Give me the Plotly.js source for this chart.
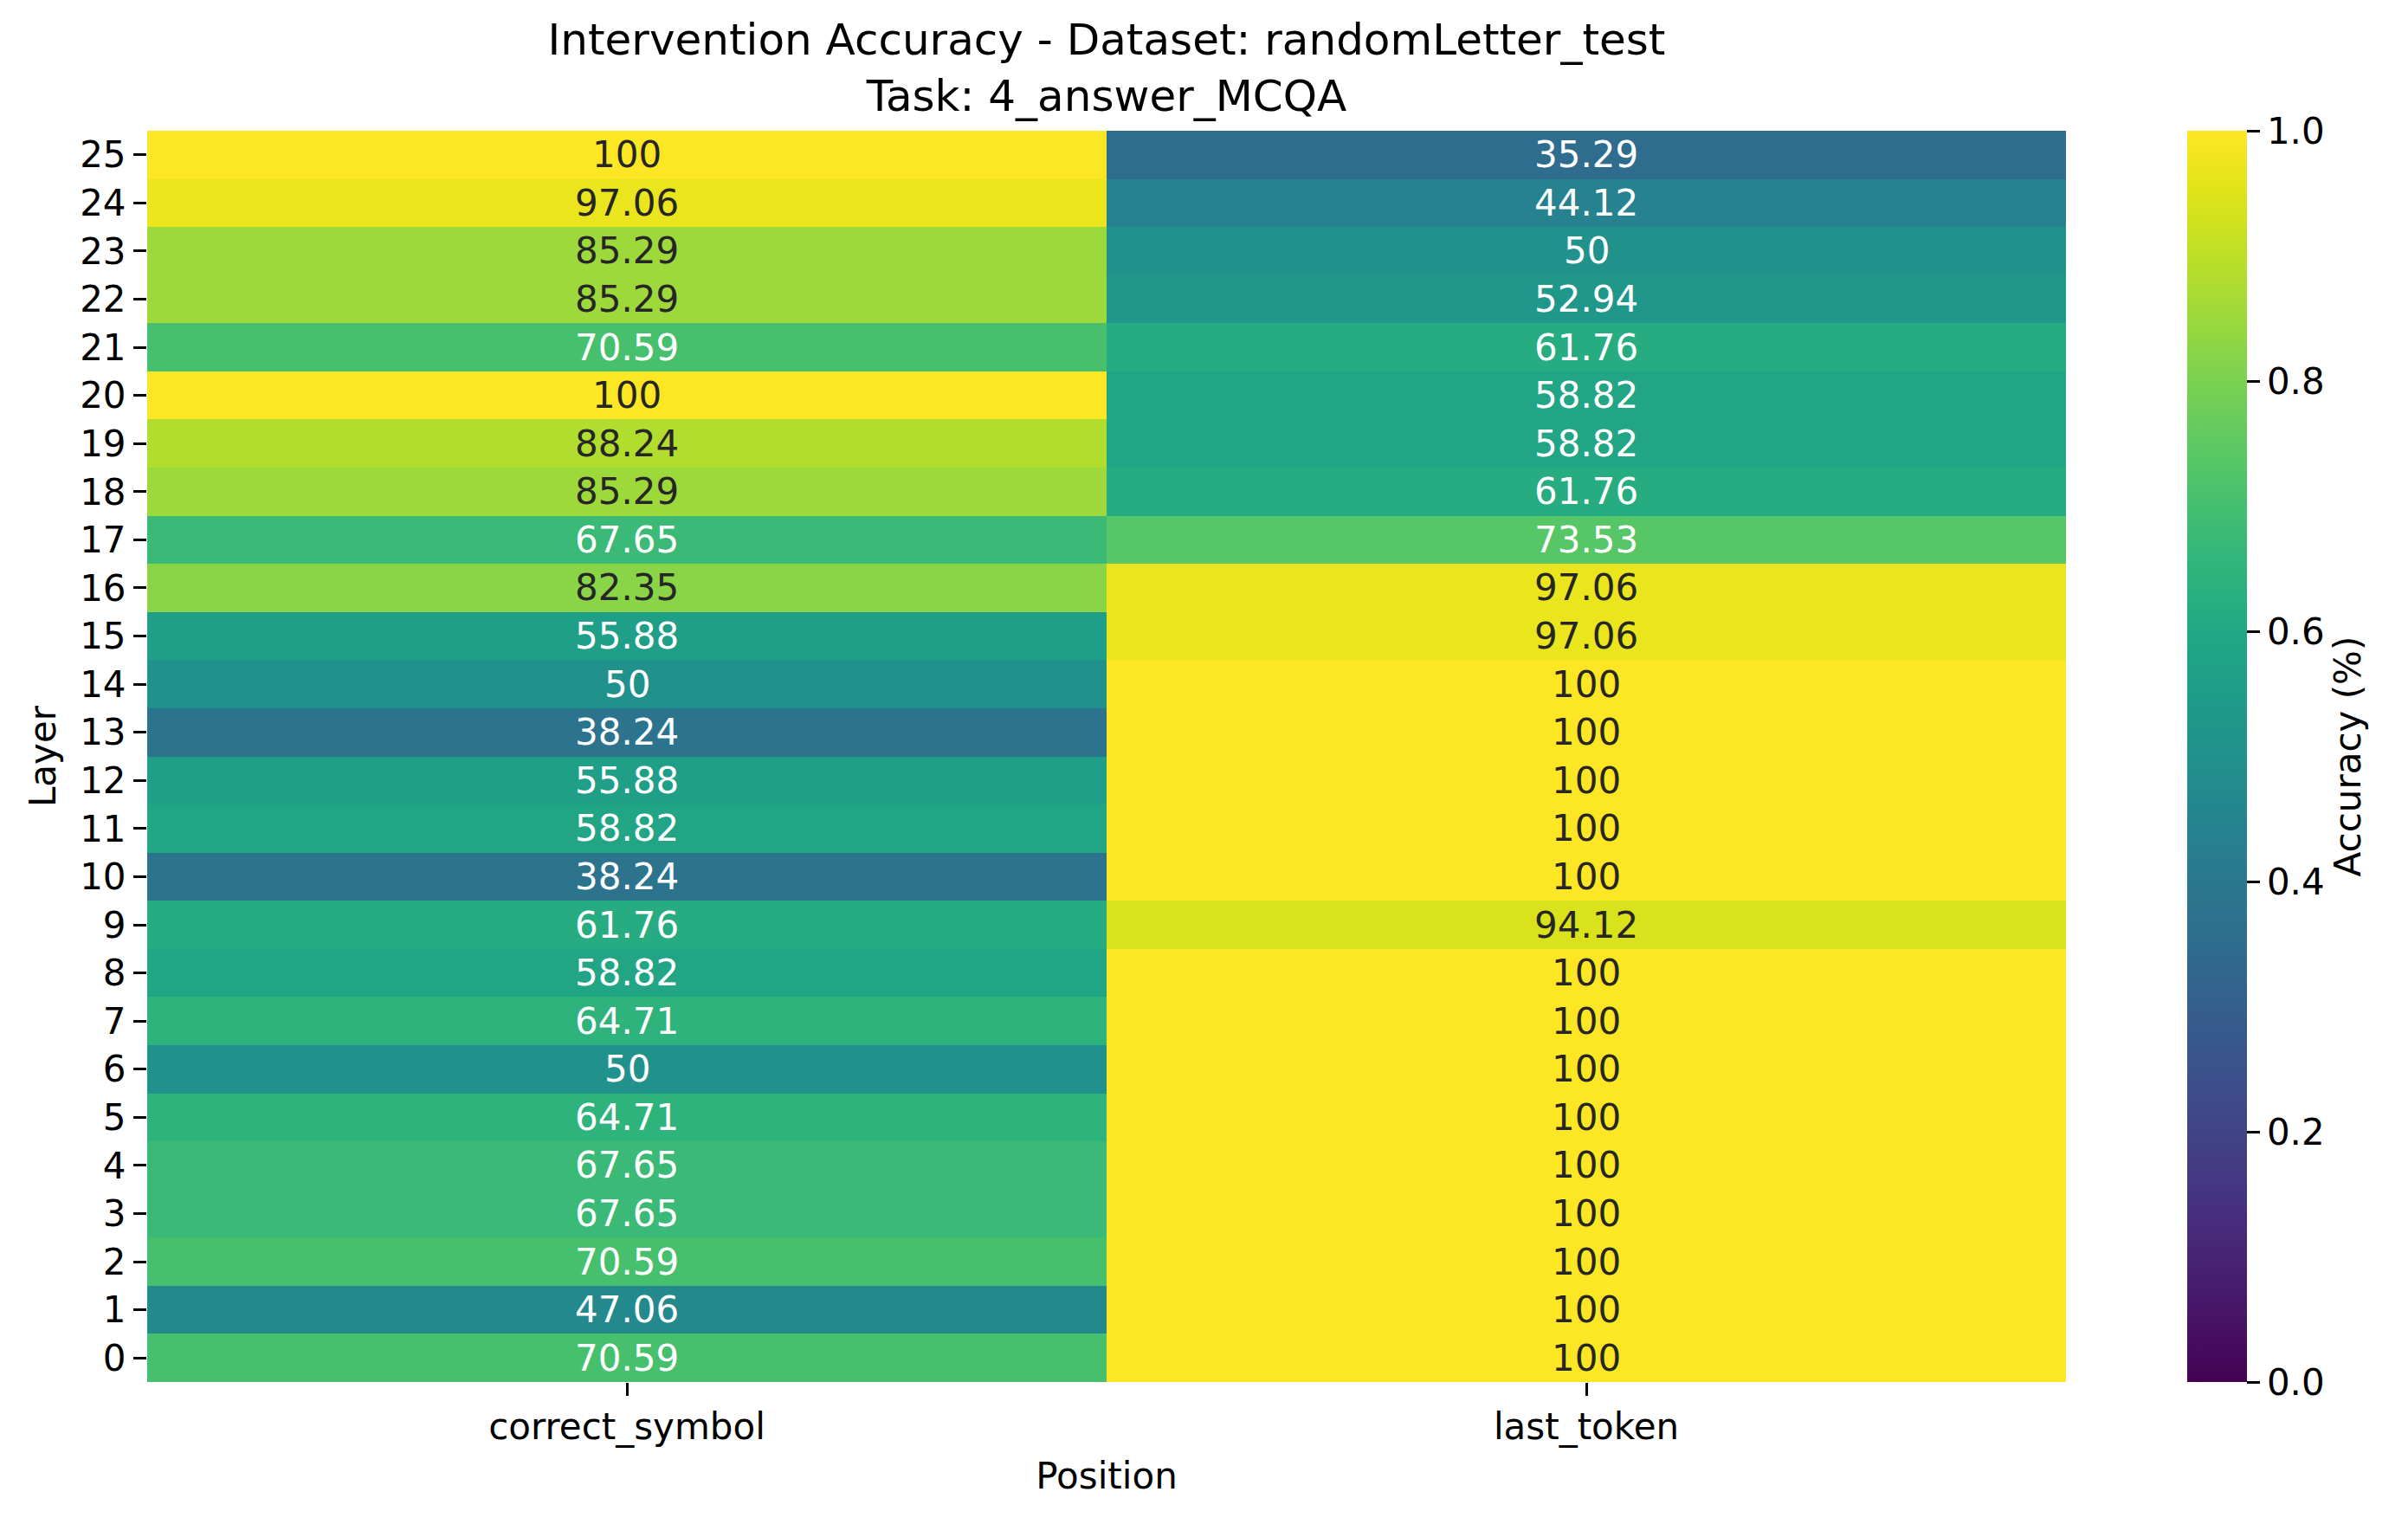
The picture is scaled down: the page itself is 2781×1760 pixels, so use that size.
<!DOCTYPE html>
<html>
<head>
<meta charset="utf-8">
<script src="https://cdn.plot.ly/plotly-3.0.1.min.js"></script>
<style>html,body{margin:0;padding:0;background:#fff;}</style>
</head>
<body>
<div id="chart" style="width:2781px;height:1760px;"></div>
<script>
// Data (percent accuracy), layers 0..25
const positions = ["correct_symbol", "last_token"];
const layers = ["0","1","2","3","4","5","6","7","8","9","10","11","12","13","14","15","16","17","18","19","20","21","22","23","24","25"];
const correctSymbol = [70.59, 47.06, 70.59, 67.65, 67.65, 64.71, 50, 64.71, 58.82, 61.76, 38.24, 58.82, 55.88, 38.24, 50, 55.88, 82.35, 67.65, 85.29, 88.24, 100, 70.59, 85.29, 85.29, 97.06, 100];
const lastToken = [100, 100, 100, 100, 100, 100, 100, 100, 100, 94.12, 100, 100, 100, 100, 100, 97.06, 97.06, 73.53, 61.76, 58.82, 58.82, 61.76, 52.94, 50, 44.12, 35.29];
const cbTicks = [0, 0.2, 0.4, 0.6, 0.8, 1.0];
const cbTickText = ["0.0", "0.2", "0.4", "0.6", "0.8", "1.0"];

const series = [correctSymbol, lastToken];
const z = layers.map((_, i) => series.map(s => s[i] / 100));

const viridisFull = [
  [0.00, "#440154"], [0.05, "#471365"], [0.10, "#482475"], [0.15, "#463480"],
  [0.20, "#414487"], [0.25, "#3b528b"], [0.30, "#355f8d"], [0.35, "#2f6c8e"],
  [0.40, "#2a788e"], [0.45, "#25848e"], [0.50, "#21918c"], [0.55, "#1e9c89"],
  [0.60, "#22a884"], [0.65, "#2fb47c"], [0.70, "#44bf70"], [0.75, "#5ec962"],
  [0.80, "#7ad151"], [0.85, "#9bd93c"], [0.90, "#bddf26"], [0.95, "#dfe318"],
  [1.00, "#fde725"]
];

const fmt = v => String(Math.round(v * 100) / 100);

const annotations = [];
layers.forEach((l, i) => {
  positions.forEach((p, j) => {
    const v = series[j][i];
    annotations.push({
      x: p, y: l, xref: "x", yref: "y",
      text: fmt(v), showarrow: false,
      font: {family: "DejaVu Sans", size: 42, color: v >= 80 ? "#262626" : "#ffffff"}
    });
  });
});

const trace = {
  type: "heatmap",
  x: positions,
  y: layers,
  z: z,
  zmin: 0, zmax: 1,
  colorscale: viridisFull,
  hoverinfo: "skip",
  colorbar: {
    x: 1.0632, xanchor: "left", xpad: 0, ypad: 0,
    y: 0.5, yanchor: "middle", len: 1, lenmode: "fraction",
    thickness: 69, thicknessmode: "pixels",
    outlinewidth: 0,
    tickmode: "array", tickvals: cbTicks, ticktext: cbTickText,
    ticks: "outside", ticklen: 15, tickwidth: 3, tickcolor: "#000",
    tickfont: {family: "DejaVu Sans", size: 42, color: "#000"},
    title: {text: "Accuracy (%)", side: "right", font: {family: "DejaVu Sans", size: 42, color: "#000"}}
  }
};

const layout = {
  width: 2781, height: 1760,
  margin: {l: 170, r: 395, t: 151, b: 164, pad: 0},
  paper_bgcolor: "#fff", plot_bgcolor: "#fff",
  font: {family: "DejaVu Sans", size: 42, color: "#000"},
  title: {
    text: "Intervention Accuracy - Dataset: randomLetter_test<br>Task: 4_answer_MCQA",
    font: {family: "DejaVu Sans", size: 50, color: "#000"},
    x: 0.5, xref: "paper", xanchor: "center",
    y: 1 - 63 / 1760, yref: "container", yanchor: "middle"
  },
  xaxis: {
    type: "category", categoryorder: "array", categoryarray: positions,
    ticks: "outside", ticklen: 15, tickwidth: 3, tickcolor: "#000",
    tickfont: {family: "DejaVu Sans", size: 42, color: "#000"},
    showgrid: false, zeroline: false, showline: false,
    title: {text: "Position", standoff: 18, font: {family: "DejaVu Sans", size: 42, color: "#000"}},
    automargin: false
  },
  yaxis: {
    type: "category", categoryorder: "array", categoryarray: layers,
    ticks: "outside", ticklen: 15, tickwidth: 3, tickcolor: "#000",
    tickfont: {family: "DejaVu Sans", size: 42, color: "#000"},
    showgrid: false, zeroline: false, showline: false,
    title: {text: "Layer", standoff: 14, font: {family: "DejaVu Sans", size: 42, color: "#000"}},
    automargin: false
  },
  annotations: annotations
};

Plotly.newPlot("chart", [trace], layout, {displayModeBar: false, staticPlot: true});
</script>
</body>
</html>
